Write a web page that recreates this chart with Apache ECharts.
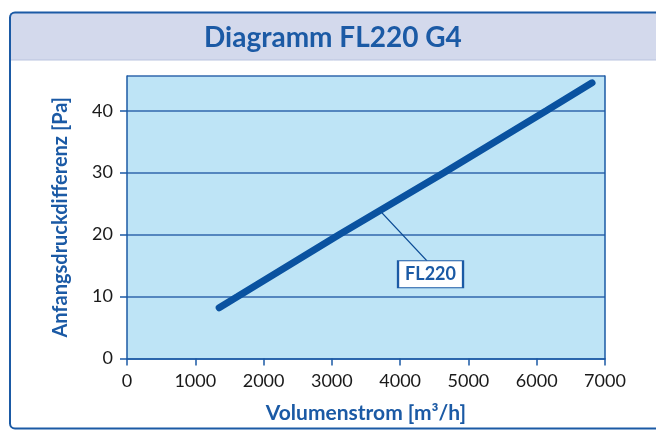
<!DOCTYPE html>
<html>
<head>
<meta charset="utf-8">
<script src="https://cdn.jsdelivr.net/npm/echarts@6/dist/echarts.min.js"></script>
<style>
html,body{margin:0;padding:0;background:#fff;}
#chart{width:656px;height:430px;}
</style>
</head>
<body>
<div id="chart"></div>
<script>
// Data
var flowValues = [1350, 1620, 3110, 4640, 6140, 6810];      // Volumenstrom [m³/h]
var pressureValues = [8.2, 10, 20, 30, 40, 44.5];            // Anfangsdruckdifferenz [Pa]
var seriesName = 'FL220';
var labelPoint = [4445, 13.6];                         // annotation box centre (data units)
var leaderFrom = [3734, 23.5];
var leaderTo = [4393, 15.75];
var xTicks = [0, 1000, 2000, 3000, 4000, 5000, 6000, 7000];
var yTicks = [0, 10, 20, 30, 40];

var BLUE = '#1b5aa5';
var FONT = 'Lato';

var lineData = flowValues.map(function (x, i) { return [x, pressureValues[i]]; });

var chart = echarts.init(document.getElementById('chart'), null, {renderer: 'canvas'});
chart.setOption({
  animation: false,
  title: {
    text: 'Diagramm FL220 G4',
    left: 199,
    top: 19,
    textStyle: {color: BLUE, fontSize: 28, fontWeight: 'bold', fontFamily: FONT}
  },
  graphic: [
    {type: 'rect', z: -10, shape: {x: 10, y: 13, width: 700, height: 47}, style: {fill: '#d3d9ec'}},
    {type: 'line', z: -9, shape: {x1: 10, y1: 60, x2: 700, y2: 60}, style: {stroke: '#b9c3df', lineWidth: 1}},
    {type: 'rect', z: -8, shape: {x: 10, y: 12.5, width: 700, height: 416, r: 5}, style: {fill: null, stroke: BLUE, lineWidth: 2}}
  ],
  grid: {
    left: 127, right: 51, top: 76, bottom: 71.5,
    show: true, backgroundColor: '#bee4f6', borderWidth: 0
  },
  xAxis: {
    type: 'value', min: 0, max: 7000, interval: 1000,
    name: 'Volumenstrom [m³/h]', nameLocation: 'middle', nameGap: 44,
    nameTextStyle: {color: BLUE, fontSize: 21, fontWeight: 'bold', fontFamily: FONT},
    axisLine: {show: true, lineStyle: {color: BLUE, width: 1.5}},
    axisTick: {show: true, length: 7, lineStyle: {color: BLUE, width: 1.5}},
    axisLabel: {color: '#1a1a1a', fontSize: 18, fontFamily: FONT, margin: 14,
      formatter: function (v) { return xTicks.indexOf(v) >= 0 ? String(v) : ''; }},
    splitLine: {show: false}
  },
  yAxis: [{
    type: 'value', min: 0, max: 45.6, interval: 10,
    name: 'Anfangsdruckdifferenz [Pa]', nameLocation: 'middle', nameGap: 56,
    nameTextStyle: {color: BLUE, fontSize: 20, fontWeight: 'bold', fontFamily: FONT},
    axisLine: {show: true, lineStyle: {color: BLUE, width: 1.5}},
    axisTick: {show: true, length: 7, lineStyle: {color: BLUE, width: 1.5}},
    axisLabel: {color: '#1a1a1a', fontSize: 18, fontFamily: FONT, margin: 14, showMaxLabel: false,
      formatter: function (v) { return yTicks.indexOf(v) >= 0 ? String(v) : ''; }},
    splitLine: {show: true, lineStyle: {color: '#3067ad', width: 1.5}}
  }, {
    type: 'value', min: 0, max: 45.6, position: 'right',
    axisLine: {show: true, lineStyle: {color: BLUE, width: 1.5}},
    axisTick: {show: false}, axisLabel: {show: false}, splitLine: {show: false}
  }],
  series: [{
    name: seriesName,
    type: 'line',
    data: lineData,
    symbol: 'none',
    lineStyle: {color: '#0a52a0', width: 7, cap: 'round'},
    z: 5,
    markLine: {
      silent: true, symbol: 'none',
      lineStyle: {color: '#0a4a94', width: 1.3, type: 'solid'},
      label: {show: false},
      data: [[{coord: leaderFrom}, {coord: leaderTo}]]
    },
    markPoint: {
      silent: true,
      symbol: 'rect', symbolSize: [65, 27],
      itemStyle: {color: '#ffffff', borderColor: BLUE, borderWidth: 1.5},
      label: {show: true, formatter: seriesName, color: BLUE, fontSize: 18, fontWeight: 'bold', fontFamily: FONT},
      data: [{coord: labelPoint}]
    }
  }]
});
</script>
</body>
</html>
